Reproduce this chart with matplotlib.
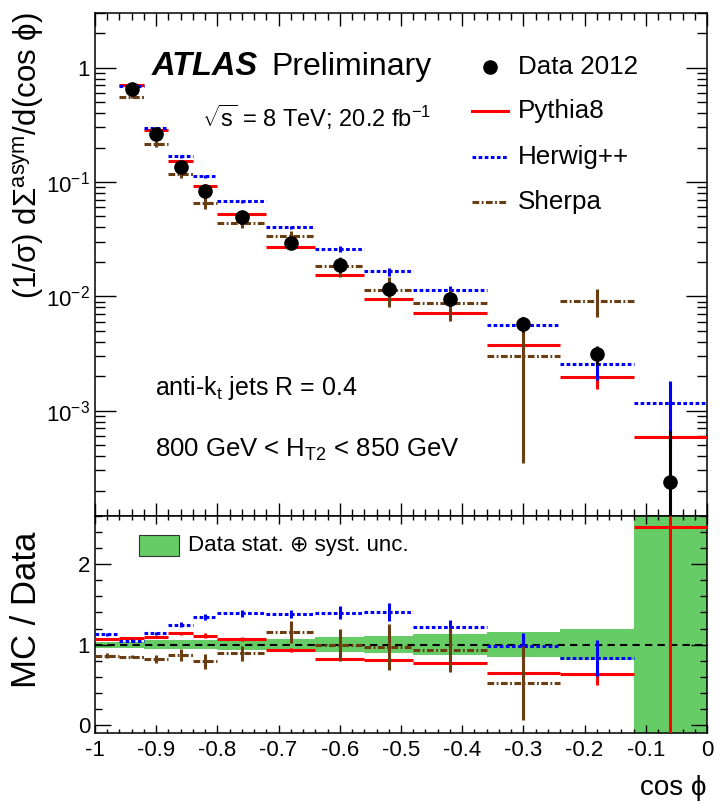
import numpy as np
import matplotlib
matplotlib.use("Agg")
import matplotlib.pyplot as plt
from matplotlib.ticker import MultipleLocator, FixedLocator, FuncFormatter, LogLocator, NullFormatter
from matplotlib.patches import Rectangle

plt.rcParams['font.family'] = ['Liberation Sans', 'DejaVu Sans']
plt.rcParams['mathtext.fontset'] = 'custom'
plt.rcParams['mathtext.rm'] = 'Liberation Sans'
plt.rcParams['mathtext.it'] = 'Liberation Sans:italic'
plt.rcParams['mathtext.bf'] = 'Liberation Sans:bold'
plt.rcParams['axes.unicode_minus'] = False

# cos(phi) binning
bin_edges = [-1.0, -0.96, -0.92, -0.88, -0.84, -0.80, -0.72, -0.64,
             -0.56, -0.48, -0.36, -0.24, -0.12, 0.0]

# (1/sigma) dSigma^asym / d(cos phi)
data_2012 = [5.0, 0.654, 0.262, 0.134, 0.0834, 0.049, 0.029, 0.0186,
             0.0117, 0.0094, 0.00576, 0.0031, 0.00024]
# relative data uncertainty (stat + syst)
data_unc = [0.037, 0.037, 0.052, 0.052, 0.06, 0.067, 0.073, 0.094,
            0.11, 0.13, 0.155, 0.195, 1.75]

pythia8 = [5.35, 0.706, 0.286, 0.153, 0.0926, 0.0524, 0.0270, 0.01525,
           0.0095, 0.0072, 0.00374, 0.00198, 0.00059]
pythia8_err = [0.05, 0.008, 0.004, 0.0027, 0.0025, 0.001, 0.0006, 0.0002,
               0.0002, 0.0002, 0.0002, 0.00043, 0.0007]

herwig = [5.65, 0.687, 0.299, 0.1675, 0.1118, 0.068, 0.040, 0.026,
          0.0165, 0.01147, 0.00564, 0.00257, 0.00117]
herwig_err = [0.1, 0.013, 0.005, 0.004, 0.0033, 0.002, 0.00145, 0.0015,
              0.0013, 0.00085, 0.00092, 0.0007, 0.00066]

sherpa = [4.3, 0.556, 0.215, 0.1166, 0.0659, 0.0436, 0.0336, 0.0184,
          0.01135, 0.00874, 0.0030, 0.0091, np.nan]
sherpa_err = [0.15, 0.013, 0.012, 0.0094, 0.0075, 0.0044, 0.004, 0.0037,
              0.0033, 0.0026, 0.00265, 0.0025, np.nan]

RED = '#ff0000'
BLUE = '#0000ff'
BROWN = '#6b3d12'
GREEN = '#66cc66'
LW = 2.2
DOT = (0, (1.2, 0.8))
DASHDOT = (0, (2.2, 0.8, 0.6, 0.8))
PHI = "\u03d5"

edges = np.array(bin_edges)
lo, hi = edges[:-1], edges[1:]
xc = 0.5 * (lo + hi)
data = np.array(data_2012)
band = np.array(data_unc)

models = [
    ("Pythia8", pythia8, pythia8_err, RED, '-'),
    ("Herwig++", herwig, herwig_err, BLUE, DOT),
    ("Sherpa", sherpa, sherpa_err, BROWN, DASHDOT),
]


def draw_hist(a, y, err, color, ls, ymin, ymax, z):
    # one horizontal segment per bin plus a vertical error bar at the centre;
    # bins whose content falls outside the frame are skipped
    y = np.asarray(y, float)
    err = np.asarray(err, float)
    ok = np.isfinite(y) & (y > ymin) & (y < ymax)
    low = np.maximum(y - err, ymin)
    high = np.minimum(y + err, ymax)
    a.vlines(xc[ok], low[ok], high[ok], colors=color, lw=LW, zorder=z)
    a.hlines(y[ok], lo[ok], hi[ok], colors=color, linestyles=ls, lw=LW, zorder=z)


W, H = 722, 802
fig = plt.figure(figsize=(W / 100, H / 100), dpi=100)
ax = fig.add_axes([95 / W, 1 - 516 / H, 612 / W, 503 / H])
rax = fig.add_axes([95 / W, 1 - 733 / H, 612 / W, 217 / H])

# ---- upper pad: distributions ----
YMIN, YMAX = 1.2e-4, 3.0
ax.set_yscale('log', nonpositive='clip')
ax.set_ylim(YMIN, YMAX)
ax.set_xlim(-1, 0)

for i, (name, y, e, c, ls) in enumerate(models):
    draw_hist(ax, y, e, c, ls, YMIN, YMAX, 3 + i)

ok = data < YMAX
derr = data * band
ax.vlines(xc[ok], np.maximum(data - derr, YMIN)[ok], (data + derr)[ok],
          colors='k', lw=LW, zorder=7)
ax.plot(xc[ok], data[ok], 'o', color='k', ms=9.5, zorder=8)

ax.yaxis.set_major_locator(FixedLocator([1e-3, 1e-2, 1e-1, 1.0]))
ax.yaxis.set_minor_locator(LogLocator(base=10, subs=np.arange(2, 10) * 1.0, numticks=20))
ax.yaxis.set_minor_formatter(NullFormatter())
ax.yaxis.set_major_formatter(FuncFormatter(
    lambda v, _: "1" if abs(v - 1) < 1e-9 else "$10^{%d}$" % round(np.log10(v))))
ax.xaxis.set_major_locator(MultipleLocator(0.1))
ax.xaxis.set_minor_locator(MultipleLocator(0.02))
ax.tick_params(which='both', direction='in', top=True, right=True,
               labelbottom=False, labelsize=16, width=1.0)
ax.tick_params(axis='x', which='major', length=9.5)
ax.tick_params(axis='x', which='minor', length=4.7)
ax.tick_params(axis='y', which='major', length=15)
ax.tick_params(axis='y', which='minor', length=7.5)

tr = ax.transAxes
ax.text(0.093, 0.877, "ATLAS", fontsize=23.5, fontweight='bold', fontstyle='italic',
        transform=tr, va='baseline')
ax.text(0.289, 0.877, "Preliminary", fontsize=23, transform=tr, va='baseline')
ax.text(0.175, 0.773, r"$\sqrt{\mathrm{s}}$ = 8 TeV; 20.2 fb$^{-1}$", fontsize=17,
        transform=tr, va='baseline')
ax.text(0.098, 0.241, r"anti-k$_{\mathrm{t}}$ jets R = 0.4", fontsize=18,
        transform=tr, va='baseline')
ax.text(0.098, 0.117, r"800 GeV < H$_{\mathrm{T2}}$ < 850 GeV", fontsize=18.5,
        transform=tr, va='baseline')

# legend
ax.plot([0.645], [0.893], 'o', color='k', ms=9.5, transform=tr, clip_on=False)
ax.text(0.691, 0.893, "Data 2012", fontsize=18.7, transform=tr, va='center')
leg_y = [0.805, 0.714, 0.624]
for (name, y, e, c, ls), ly in zip(models, leg_y):
    ax.plot([0.616, 0.675], [ly, ly], color=c, ls=ls, lw=LW, transform=tr)
    ax.text(0.691, ly, name, fontsize=18.7, transform=tr, va='center')

# ---- lower pad: MC / Data ----
RMIN, RMAX = -0.1, 2.6
rax.set_ylim(RMIN, RMAX)
rax.set_xlim(-1, 0)
rax.bar(lo, 2 * band, width=hi - lo, bottom=1 - band, align='edge',
        color=GREEN, lw=0, zorder=1)
rax.axhline(1.0, color='k', ls=(0, (3.5, 2.5)), lw=1.5, zorder=2)

for i, (name, y, e, c, ls) in enumerate(models):
    draw_hist(rax, np.asarray(y, float) / data, np.asarray(e, float) / data,
              c, ls, RMIN, RMAX, 3 + i)

rax.yaxis.set_major_locator(MultipleLocator(1))
rax.yaxis.set_minor_locator(MultipleLocator(0.2))
rax.xaxis.set_major_locator(MultipleLocator(0.1))
rax.xaxis.set_minor_locator(MultipleLocator(0.02))
rax.xaxis.set_major_formatter(FuncFormatter(
    lambda v, _: "0" if abs(v) < 1e-9 else "%g" % round(v, 1)))
rax.tick_params(which='both', direction='in', top=True, right=True,
                labelsize=16, width=1.0)
rax.tick_params(axis='x', which='major', length=5.5, pad=5)
rax.tick_params(axis='x', which='minor', length=2.8)
rax.tick_params(axis='y', which='major', length=11.5)
rax.tick_params(axis='y', which='minor', length=5)

rtr = rax.transAxes
rax.add_patch(Rectangle((0.072, 0.816), 0.065, 0.096, transform=rtr,
                        facecolor=GREEN, edgecolor='#333333', lw=0.8, zorder=9))
rax.text(0.152, 0.862, "Data stat. \u2295 syst. unc.", fontsize=16,
         transform=rtr, va='center', zorder=9)

for a in (ax, rax):
    for s in a.spines.values():
        s.set_linewidth(1.1)

# axis titles
fig.text(29 / W, 1 - 12 / H, "(1/σ) dΣ$^{\\mathrm{asym}}$/d(cos " + PHI + ")",
         fontsize=22.5, rotation=90, ha='center', va='top')
fig.text(26 / W, 1 - 610 / H, "MC / Data", fontsize=25, rotation=90,
         ha='center', va='center')
fig.text(707 / W, 1 - 788 / H, "cos " + PHI, fontsize=20, ha='right', va='center')

fig.savefig("out.png", dpi=100)
